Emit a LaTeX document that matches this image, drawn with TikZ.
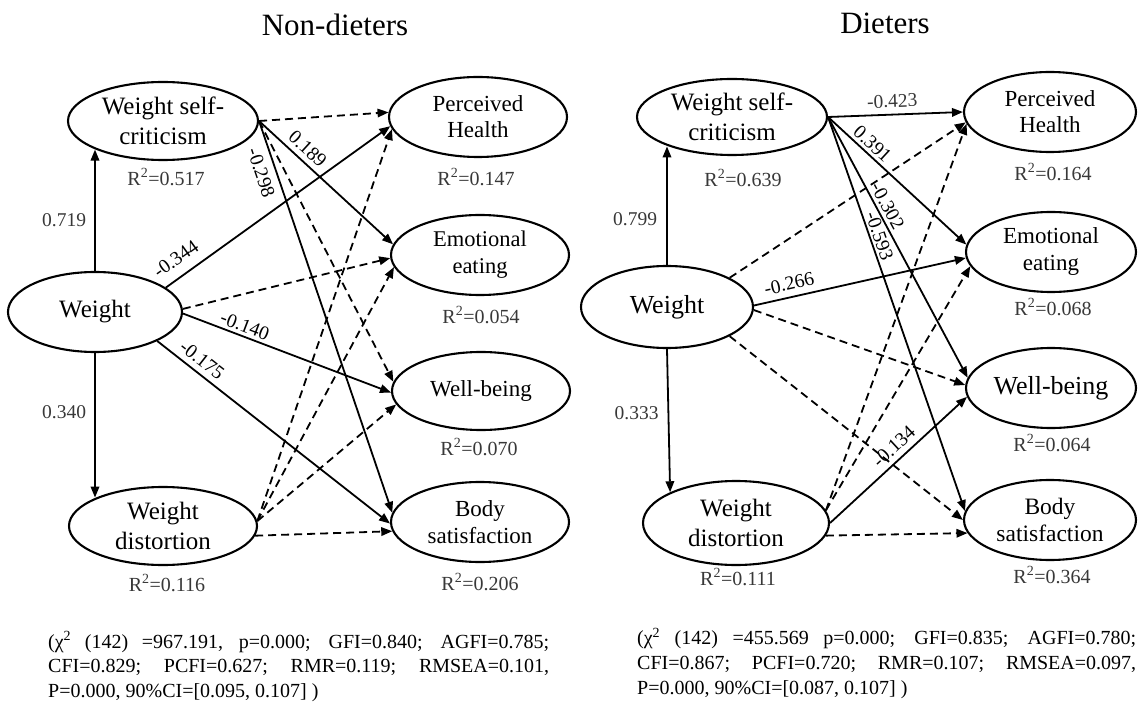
\documentclass[tikz,border=0pt]{standalone}
\usepackage{fontspec}
\setmainfont{Liberation Serif}
\usetikzlibrary{arrows.meta,shapes.geometric}
\begin{document}
\begin{tikzpicture}[x=1pt,y=-1pt,
  latent/.style={draw, ellipse, line width=2.1pt, inner sep=0pt},
  tbig/.style={font=\fontsize{25}{30}\selectfont, align=center},
  tmid/.style={font=\fontsize{23}{26}\selectfont, align=center},
  rsq/.style={font=\fontsize{20}{22}\selectfont, inner sep=0pt, text=black!78},
  ttl/.style={font=\fontsize{31}{34}\selectfont, inner sep=0pt},
  arr/.style={line width=1.8pt, -{Triangle[length=11pt,width=8.5pt]}},
  dsh/.style={arr, dash pattern=on 8pt off 5pt},
  lab/.style={font=\fontsize{19.5}{21}\selectfont, sloped, inner sep=2pt},
  vlab/.style={font=\fontsize{19.5}{21}\selectfont, inner sep=0pt, text=black!78},
  fittxt/.style={font=\fontsize{20}{25}\selectfont, align=left, inner sep=0pt, anchor=north west}
]
\useasboundingbox (0,0) rectangle (1138,711);

% ---------- Non-dieters ----------
\node[ttl] (tL) at (335,25) {Non-dieters};
\node[latent, minimum width=190pt, minimum height=78pt, label={[tbig]center:Weight self-\\criticism}] (wscL) at (163,121) {};
\node[latent, minimum width=178pt, minimum height=80pt, label={[tmid]center:Perceived\\Health}] (phL) at (478,117) {};
\node[latent, minimum width=178pt, minimum height=80pt, label={[tmid,font=\fontsize{22.5}{27}\selectfont]center:Emotional\\eating}] (eeL) at (480,255) {};
\node[latent, minimum width=178pt, minimum height=78pt, label={[tmid]center:Well-being}] (wbL) at (481,391) {};
\node[latent, minimum width=178pt, minimum height=80pt, label={[tmid,font=\fontsize{23}{27}\selectfont]center:Body\\satisfaction}] (bsL) at (480,522) {};
\node[latent, minimum width=174pt, minimum height=80pt, label={[tbig]center:Weight}] (wL) at (95,312) {};
\node[latent, minimum width=188pt, minimum height=78pt, label={[tbig]center:Weight\\distortion}] (wdL) at (163,526) {};

\node[rsq] (r1L) at (166,177) {R\textsuperscript{2}=0.517};
\node[rsq] (r2L) at (476,177) {R\textsuperscript{2}=0.147};
\node[rsq] (r3L) at (481,315) {R\textsuperscript{2}=0.054};
\node[rsq] (r4L) at (479,447) {R\textsuperscript{2}=0.070};
\node[rsq] (r5L) at (480,582) {R\textsuperscript{2}=0.206};
\node[rsq] (r6L) at (167,583) {R\textsuperscript{2}=0.116};

\draw[arr] (wL.north) -- node[vlab,left=8pt,pos=.42]{0.719} (wL.north |- wscL.203);
\draw[arr] (wL.south) -- node[vlab,left=8pt,pos=.41]{0.340} (wL.south |- wdL.157);

\draw[dsh] (wscL.east) -- (phL.177);
\draw[arr] (wscL.east) -- node[lab,pos=.3,above=3pt]{0.189} (eeL.173);
\draw[dsh] (wscL.east) -- (wbL.174);
\draw[arr] (wscL.east) -- node[lab,pos=.12,below=5pt]{-0.298} (bsL.174);
\draw[arr] (wL.19) -- node[lab,pos=.09,above=8pt]{-0.344} (phL.186);
\draw[dsh] (wL.2) -- (eeL.182);
\draw[arr] (wL.-1) -- node[lab,pos=.28,above=1pt]{-0.140} (wbL.181);
\draw[arr] (wL.-25) -- node[lab,pos=.16,above=3pt]{-0.175} (bsL.181);
\draw[dsh] (wdL.3) -- (phL.188);
\draw[dsh] (wdL.3) -- (eeL.188);
\draw[dsh] (wdL.3) -- (wbL.189);
\draw[dsh] (wdL.-6) -- (bsL.186);

\node[fittxt] (fitL) at (48,631) {\makebox[501pt][s]{(χ\textsuperscript{2} (142) =967.191, p=0.000; GFI=0.840; AGFI=0.785;}\\\makebox[501pt][s]{CFI=0.829; PCFI=0.627; RMR=0.119; RMSEA=0.101,}\\P=0.000, 90\%CI=[0.095, 0.107] )};

% ---------- Dieters ----------
\node[ttl] (tR) at (885,23) {Dieters};
\node[latent, minimum width=190pt, minimum height=76pt, label={[tbig]center:Weight self-\\criticism}] (wscR) at (732,117) {};
\node[latent, minimum width=172pt, minimum height=80pt, label={[tmid]center:Perceived\\Health}] (phR) at (1050,112) {};
\node[latent, minimum width=170pt, minimum height=80pt, label={[tmid,font=\fontsize{23}{27}\selectfont]center:Emotional\\eating}] (eeR) at (1051,252) {};
\node[latent, minimum width=170pt, minimum height=80pt, label={[tbig,font=\fontsize{26}{28}\selectfont]center:Well-being}] (wbR) at (1051,388) {};
\node[latent, minimum width=172pt, minimum height=80pt, label={[tmid,font=\fontsize{23.5}{27}\selectfont]center:Body\\satisfaction}] (bsR) at (1050,520) {};
\node[latent, minimum width=172pt, minimum height=82pt, label={[tbig,font=\fontsize{26}{28}\selectfont]center:Weight}] (wR) at (667,307) {};
\node[latent, minimum width=186pt, minimum height=84pt, label={[tbig]center:Weight\\distortion}] (wdR) at (736,523) {};

\node[rsq] (r1R) at (743,178) {R\textsuperscript{2}=0.639};
\node[rsq] (r2R) at (1053,172) {R\textsuperscript{2}=0.164};
\node[rsq] (r3R) at (1053,307) {R\textsuperscript{2}=0.068};
\node[rsq] (r4R) at (1052,443) {R\textsuperscript{2}=0.064};
\node[rsq] (r5R) at (1052,575) {R\textsuperscript{2}=0.364};
\node[rsq] (r6R) at (738,577) {R\textsuperscript{2}=0.111};

\draw[arr] (wR.north) -- node[vlab,left=9pt,pos=.39]{0.799} (wR.north |- wscR.205);
\draw[arr] (wR.south) -- node[vlab,left=9pt,pos=.45]{0.333} (wdR.155);

\draw[arr] (wscR.east) -- node[lab,pos=.48,above=4pt,text=black!78]{-0.423} (phR.180);
\draw[arr] (wscR.east) -- node[lab,pos=.27,above=1pt]{0.391} (eeR.175);
\draw[arr] (wscR.east) -- node[lab,pos=.36,above=1pt]{-0.302} (wbR.173);
\draw[arr] (wscR.east) -- node[lab,pos=.31,above=0pt]{-0.593} (bsR.174);
\draw[dsh] (wR.25) -- (phR.187);
\draw[arr] (wR.1) -- node[lab,pos=.18,above=4pt]{-0.266} (eeR.184);
\draw[dsh] (wR.-2) -- (wbR.178);
\draw[dsh] (wR.-25) -- (bsR.180);
\draw[dsh] (wdR.8) -- (phR.188);
\draw[dsh] (wdR.8) -- (eeR.190);
\draw[arr] (wdR.0) -- node[lab,pos=.53,above=3.5pt]{-0.134} (wbR.186);
\draw[dsh] (wdR.-8) -- (bsR.189);

\node[fittxt] (fitR) at (637,628) {\makebox[499pt][s]{(χ\textsuperscript{2} (142) =455.569 p=0.000; GFI=0.835; AGFI=0.780;}\\\makebox[499pt][s]{CFI=0.867; PCFI=0.720; RMR=0.107; RMSEA=0.097,}\\P=0.000, 90\%CI=[0.087, 0.107] )};
\end{tikzpicture}
\end{document}
